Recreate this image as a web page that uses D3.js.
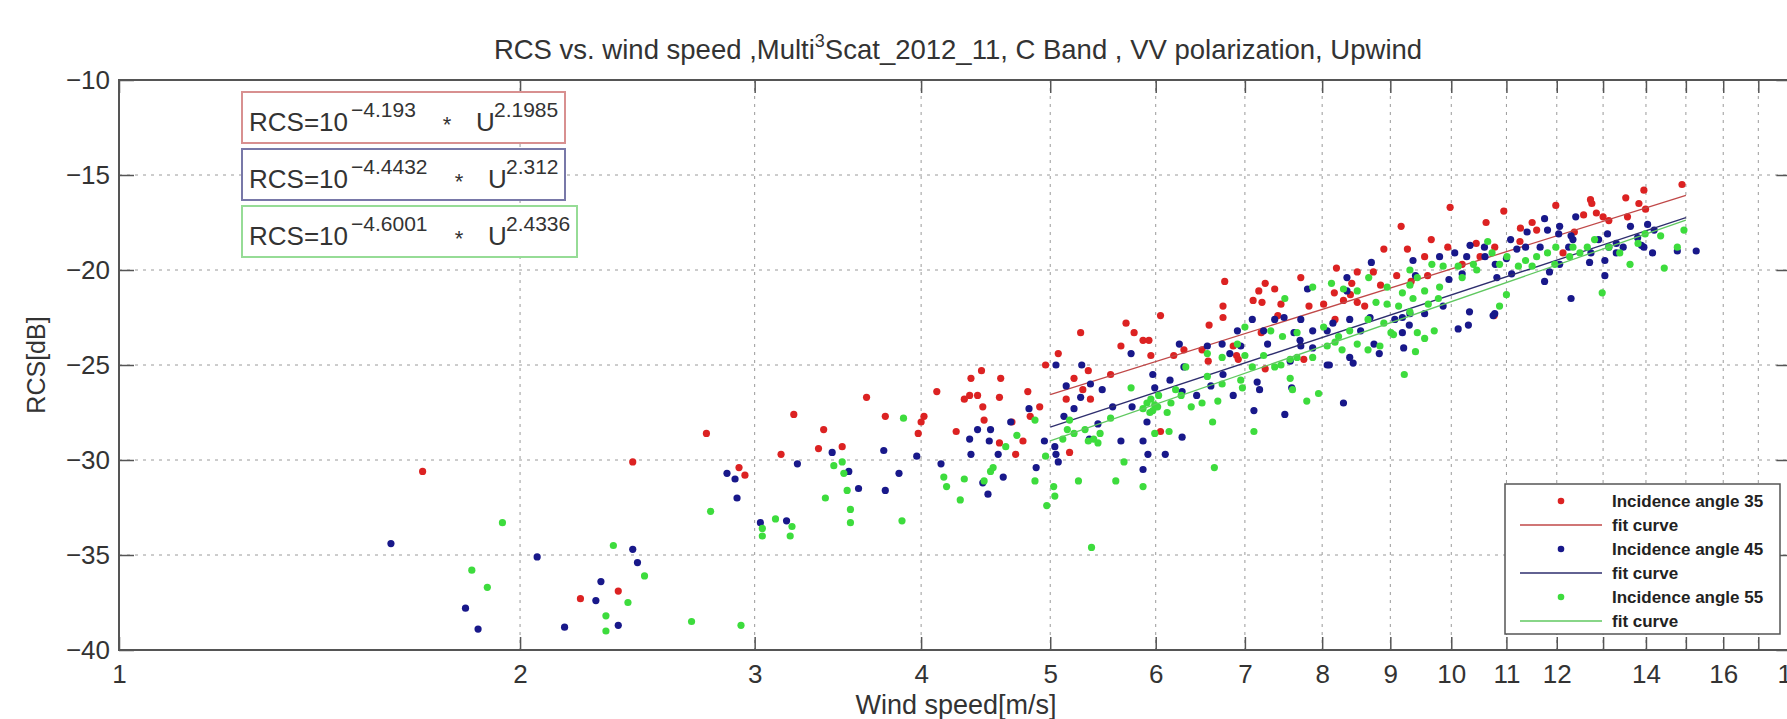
<!DOCTYPE html>
<meta charset="utf-8">
<script src="https://d3js.org/d3.v7.min.js"></script>
<style>
  body { margin: 0; background: #fff; }
  svg { display: block; font-family: 'Liberation Sans', Arial, sans-serif; }
  .tick text { fill: #333; }
</style>
<div id="chart"></div>
<script>
// readings of the scatter, [wind speed m/s, RCS dB]
var angle35 = [
  [1.69,-30.6],[2.22,-37.3],[2.43,-30.1],[2.37,-36.9],[2.76,-28.6],[2.92,-30.4],[2.95,-30.8],
  [3.14,-29.7],[3.21,-27.6],[3.38,-28.4],[3.35,-29.4],[3.49,-29.3],[3.64,-26.7],[3.76,-27.7],
  [4.02,-27.7],[4.00,-28.0],[3.98,-28.6],[4.11,-26.4],[4.25,-28.5],[4.31,-26.8],[4.36,-25.7],
  [4.35,-26.6],[4.41,-26.6],[4.44,-25.3],[4.45,-27.2],[4.46,-27.9],[4.58,-26.7],[4.59,-25.7],
  [4.58,-29.1],[4.71,-29.7],[4.68,-28.0],[4.77,-29.0],[4.81,-26.4],[4.83,-27.7],[4.96,-25.0],
  [4.91,-27.2],[5.07,-24.4],[5.27,-23.3],[5.17,-29.6],[5.14,-26.8],[5.21,-25.7],[5.29,-26.3],
  [5.34,-25.3],[5.36,-26.8],[5.55,-25.5],[5.65,-24.0],[5.70,-22.8],[5.78,-23.3],[5.87,-23.7],
  [5.93,-23.7],[6.05,-22.4],[5.95,-24.5],[6.05,-28.5],[6.19,-24.5],[6.30,-24.2],
  [6.58,-22.9],[6.74,-22.5],[6.74,-21.9],[6.50,-24.2],[6.57,-24.8],[6.86,-24.0],[6.90,-24.5],
  [6.92,-24.7],[7.20,-23.3],[7.25,-25.2],[7.41,-22.4],[7.10,-21.6],[7.75,-24.7],[8.18,-22.6],
  [8.40,-21.3],[8.30,-21.6],[10.77,-22.4],
  [7.21,-21.7],[7.45,-21.8],[7.82,-21.9],[8.02,-21.8],[8.50,-21.7],[8.61,-21.9],
  [7.17,-21.1],[7.37,-21.0],[7.25,-20.7],[6.76,-20.6],[7.71,-20.4],[8.20,-19.9],[8.17,-21.2],
  [8.42,-20.7],[8.50,-20.1],[8.74,-20.1],[8.85,-20.8],[9.10,-20.3],[9.33,-20.6],[9.60,-20.3],
  [8.90,-18.9],[9.27,-18.9],[9.55,-19.3],[9.66,-18.4],[9.94,-18.8],[10.44,-18.6],[10.51,-19.3],
  [10.19,-19.7],[10.78,-18.8],[11.26,-18.5],[11.59,-17.9],[12.13,-19.1],[12.37,-18.0],[13.13,-17.4],
  [9.17,-17.7],[9.98,-16.7],[10.62,-17.5],[10.95,-16.9],[11.27,-17.8],[11.50,-17.5],[11.98,-16.6],
  [12.57,-17.1],[12.72,-16.3],[12.75,-16.5],[12.85,-17.0],[13.00,-17.2],[13.56,-17.2],[13.52,-16.2],
  [13.99,-16.8],[13.83,-16.5],[13.95,-15.8],[14.90,-15.5]
];

var angle45 = [
  [1.60,-34.4],[1.82,-37.8],[1.86,-38.9],[2.06,-35.1],[2.16,-38.8],[2.28,-37.4],[2.30,-36.4],
  [2.37,-38.7],[2.43,-34.7],[2.45,-35.4],
  [2.86,-30.7],[2.90,-31.0],[2.91,-32.0],[3.03,-33.3],[3.17,-33.2],[3.23,-30.2],[3.43,-29.6],
  [3.53,-30.6],[3.59,-31.5],[3.75,-29.5],[3.76,-31.6],[3.85,-30.7],[3.97,-29.8],[4.14,-30.2],
  [4.41,-28.4],[4.35,-28.9],[4.36,-29.7],[4.51,-28.4],[4.50,-29.0],[4.61,-30.9],[4.49,-31.8],
  [4.45,-31.2],[4.57,-29.7],[4.67,-28.0],[4.82,-27.3],[4.88,-30.4],[4.95,-29.0],[5.04,-29.3],
  [5.05,-29.7],[5.07,-30.1],[5.12,-27.7],[5.05,-25.0],[5.14,-26.1],[5.21,-27.3],[5.27,-26.7],
  [5.28,-25.0],[5.36,-26.0],[5.35,-28.9],[5.43,-28.1],[5.47,-26.3],[5.57,-27.2],[5.65,-29.0],
  [5.75,-24.4],[5.76,-27.2],[5.87,-29.0],[5.92,-29.7],[5.87,-30.5],[5.91,-28.0],[5.99,-26.2],
  [5.97,-25.5],[6.10,-29.7],[6.15,-25.8],[6.28,-28.8],[6.28,-26.4],[6.30,-25.1],[6.44,-26.6],
  [6.25,-23.9],
  [6.74,-25.5],[6.60,-26.1],[7.11,-27.4],[7.50,-27.6],[7.57,-24.8],[7.70,-23.7],[8.07,-25.0],
  [8.30,-27.0],[8.44,-24.9],[8.83,-24.4],[9.21,-24.1],[9.30,-22.9],[10.12,-23.1],[10.30,-22.9],
  [10.75,-22.4],[7.15,-25.9],[6.86,-26.6],
  [9.31,-22.3],[9.55,-22.3],[9.86,-21.9],[10.32,-22.2],[10.78,-22.3],[6.91,-23.2],[7.09,-22.6],
  [7.23,-23.2],[7.37,-22.6],[7.49,-22.5],[7.62,-23.3],[7.71,-22.6],[7.87,-23.2],[8.07,-23.2],
  [8.15,-22.8],[8.39,-22.6],[8.55,-23.2],[8.69,-22.5],[9.07,-22.6],[9.19,-22.5],[6.56,-24.0],
  [6.73,-23.9],[6.82,-24.4],[6.95,-24.0],[7.28,-23.9],[7.71,-24.0],[7.87,-24.1],[8.10,-25.0],
  [8.39,-24.6],[8.75,-23.9],[9.19,-23.3],[7.59,-26.2],[7.18,-26.3],
  [11.75,-17.3],[12.06,-17.7],[12.30,-18.2],[12.40,-17.2],[14.04,-17.6],[14.20,-17.9],[13.80,-18.3],
  [13.95,-18.8],[14.78,-19.0],[15.27,-19.0],[13.46,-18.8],[13.30,-19.1],[13.10,-18.1],[12.90,-18.4],
  [13.04,-19.5],[13.04,-20.3],[12.70,-19.6],[12.25,-18.8],[12.06,-19.7],[11.85,-20.1],[11.75,-20.6],
  [12.30,-21.5],[11.40,-18.0],[11.20,-18.9],[11.00,-19.4],[11.10,-20.2],[10.82,-20.4],[10.60,-19.3],
  [10.33,-18.7],[10.27,-19.3],[9.96,-20.5],[9.36,-19.5],[9.40,-20.3],[8.71,-19.6],[8.35,-20.4],
  [8.35,-21.1],[7.80,-21.0],
  [9.80,-19.3],[10.06,-19.1],[10.19,-20.2],[10.59,-18.8],[10.79,-19.7],[11.08,-18.4],[11.37,-18.8],
  [11.66,-18.8],[11.81,-17.9],[12.04,-18.1],[12.34,-18.4],[12.73,-19.1],[13.13,-18.8],[13.30,-18.6],
  [13.63,-17.7],[13.89,-18.7],[14.16,-19.1]
];

var angle55 = [
  [1.94,-33.3],[1.84,-35.8],[1.89,-36.7],[2.35,-34.5],[2.48,-36.1],[2.41,-37.5],[2.32,-38.2],
  [2.32,-39.0],[2.69,-38.5],[2.93,-38.7],[2.78,-32.7],[3.04,-33.6],[3.04,-34.0],[3.11,-33.1],
  [3.20,-33.5],[3.19,-34.0],[3.44,-30.3],[3.49,-30.1],[3.50,-30.7],[3.39,-32.0],[3.52,-31.6],
  [3.54,-32.6],[3.54,-33.3],[3.88,-27.8],[3.87,-33.2],[4.16,-30.9],[4.18,-31.4],[4.28,-32.1],
  [4.31,-31.0],[4.51,-30.6],[4.53,-30.4],[4.46,-31.1],[4.63,-29.3],[4.72,-28.7],[4.87,-27.9],
  [4.87,-31.1],[4.97,-32.4],[5.03,-31.4],[5.04,-31.9],[4.96,-29.8],[5.11,-28.9],[5.15,-28.4],
  [5.17,-27.9],[5.21,-28.6],[5.25,-31.1],[5.31,-28.4],[5.34,-29.0],[5.39,-28.9],[5.37,-34.6],
  [5.45,-28.6],[5.43,-29.1],[5.55,-27.8],[5.60,-31.1],[5.68,-30.1],[5.75,-26.2],[5.87,-31.4],
  [5.87,-27.3],[5.91,-27.0],[5.95,-26.8],[5.99,-27.1],[5.97,-27.4],[6.02,-27.2],[5.94,-27.5],
  [6.03,-26.6],[6.12,-27.5],[6.16,-27.0],[6.21,-26.3],[6.27,-26.6],[6.32,-25.1],[6.38,-27.2],
  [5.99,-28.6],[6.14,-28.5],
  [6.62,-28.0],[6.64,-30.4],[7.11,-28.5],[7.79,-26.9],[7.95,-26.5],[7.60,-26.3],[6.97,-26.2],
  [6.68,-26.9],[6.50,-27.0],[7.45,-25.0],[9.22,-25.5],[9.40,-24.3],[9.55,-23.6],[9.05,-23.4],
  [9.78,-21.5],[11.0,-21.3],
  [8.78,-21.7],[8.95,-21.8],[9.13,-21.9],[9.31,-22.2],[9.61,-21.8],[10.87,-21.9],[7.00,-23.0],
  [7.32,-23.2],[7.47,-23.5],[7.66,-23.3],[8.02,-23.0],[8.23,-23.5],[8.39,-23.2],[8.66,-22.6],
  [8.90,-22.8],[9.01,-23.3],[9.43,-23.3],[9.71,-23.2],[6.56,-24.4],[6.73,-24.6],[6.91,-23.9],
  [7.00,-24.5],[7.09,-25.1],[7.23,-24.5],[7.37,-25.1],[7.57,-24.7],[7.66,-24.6],[7.87,-24.6],
  [8.07,-24.0],[8.18,-23.8],[8.28,-24.2],[8.50,-23.9],[8.66,-24.2],[8.84,-24.0],[7.57,-25.7],
  [6.95,-25.8],[6.73,-26.0],[6.56,-25.6],
  [14.95,-17.9],[14.78,-18.8],[14.36,-18.2],[14.45,-19.9],[13.62,-19.7],[12.98,-21.2],[11.98,-18.8],
  [11.50,-19.8],[10.65,-18.5],[9.36,-21.5],[8.30,-21.0],[7.50,-21.5],
  [9.31,-20.0],[9.43,-20.4],[9.67,-19.7],[9.86,-19.8],[10.12,-19.8],[10.19,-20.4],[10.39,-19.7],
  [10.45,-20.0],[10.73,-19.1],[10.87,-19.7],[11.01,-19.3],[11.23,-19.8],[11.37,-19.5],[11.59,-19.3],
  [11.81,-19.1],[11.96,-19.7],[12.27,-19.3],[12.34,-18.8],[12.49,-19.1],[12.65,-18.8],[12.81,-18.4],
  [13.13,-18.8],[13.38,-19.1],[13.81,-18.6],[13.98,-18.1],
  [7.87,-20.9],[8.13,-20.7],[8.50,-21.1],[8.67,-20.4],[8.95,-20.9],[9.19,-21.2],[9.31,-20.8],
  [9.55,-21.1],[9.80,-20.9]
];

// fit: RCS = 10^a * U^b  (dB = 10a + 10b log10 U)
var fitA = [-4.193, -4.4432, -4.6001];
var fitB = [2.1985, 2.312, 2.4336];
var fitRange = [5, 15];

var xTicks = d3.range(1, 19);
var xLabelled = [1,2,3,4,5,6,7,8,9,10,11,12,14,16,18];
var yTicks = [-40, -35, -30, -25, -20, -15, -10];

var dotColors = ["#dc2222", "#18188a", "#3ddc3d"];
var fitColors = ["#c04848", "#2e2e6e", "#60c860"];
var boxColors = ["#d89090", "#7878a8", "#96dc96"];
var legendNames = ["Incidence angle 35", "fit curve", "Incidence angle 45", "fit curve", "Incidence angle 55", "fit curve"];

var W = 1787, H = 719;
var plotLeft = 119, plotTop = 80, plotBottom = 650;

var svg = d3.select("#chart").append("svg")
    .attr("width", W)
    .attr("height", H);

svg.append("rect").attr("width", W).attr("height", H).attr("fill", "#fff");

var x = d3.scaleLog()
    .domain([1, 18])
    .range([plotLeft, plotLeft + 578.6 * Math.log(18)]);
var y = d3.scaleLinear()
    .domain([-40, -10])
    .range([plotBottom, plotTop]);

var plotRight = x.range()[1];

// grid
var grid = svg.append("g")
    .attr("stroke", "#9a9a9a")
    .attr("stroke-width", 1)
    .attr("stroke-dasharray", "3,5");
grid.selectAll("line.gx")
    .data(xTicks.slice(1))
    .enter().append("line")
    .attr("x1", function (d) { return x(d); })
    .attr("x2", function (d) { return x(d); })
    .attr("y1", plotTop)
    .attr("y2", plotBottom);
grid.selectAll("line.gy")
    .data(yTicks.slice(1, -1))
    .enter().append("line")
    .attr("x1", plotLeft)
    .attr("x2", plotRight)
    .attr("y1", function (d) { return y(d); })
    .attr("y2", function (d) { return y(d); });

// axes
function styleAxis(g) {
    g.select(".domain").remove();
    g.selectAll(".tick line").attr("stroke", "#555").attr("stroke-width", 1.5);
    g.selectAll(".tick text").attr("font-size", 26).attr("font-family", "'Liberation Sans', Arial, sans-serif");
}

svg.append("g")
    .attr("transform", "translate(0," + plotBottom + ")")
    .call(d3.axisBottom(x)
        .tickValues(xTicks)
        .tickFormat(function (d) { return xLabelled.indexOf(d) >= 0 ? d : ""; })
        .tickSizeInner(-13).tickSizeOuter(0).tickPadding(15))
    .call(styleAxis);

svg.append("g")
    .attr("transform", "translate(0," + plotTop + ")")
    .call(d3.axisTop(x).tickValues(xTicks).tickFormat("")
        .tickSizeInner(-13).tickSizeOuter(0))
    .call(styleAxis);

svg.append("g")
    .attr("transform", "translate(" + plotLeft + ",0)")
    .call(d3.axisLeft(y)
        .tickValues(yTicks)
        .tickSizeInner(-15).tickSizeOuter(0).tickPadding(9))
    .call(styleAxis);

svg.append("g")
    .attr("transform", "translate(" + plotRight + ",0)")
    .call(d3.axisRight(y).tickValues(yTicks).tickFormat("")
        .tickSizeInner(-15).tickSizeOuter(0))
    .call(styleAxis);

svg.append("rect")
    .attr("x", plotLeft).attr("y", plotTop)
    .attr("width", plotRight - plotLeft).attr("height", plotBottom - plotTop)
    .attr("fill", "none").attr("stroke", "#555").attr("stroke-width", 2);

// scatter + fit curves
var series = [angle35, angle45, angle55];
var line = d3.line()
    .x(function (d) { return x(d[0]); })
    .y(function (d) { return y(d[1]); });

series.forEach(function (pts, i) {
    svg.append("g")
        .selectAll("circle")
        .data(pts)
        .enter().append("circle")
        .attr("cx", function (d) { return x(d[0]); })
        .attr("cy", function (d) { return y(d[1]); })
        .attr("r", 3.6)
        .attr("fill", dotColors[i]);

    var fit = fitRange.map(function (u) {
        return [u, 10 * (fitA[i] + fitB[i] * Math.log10(u))];
    });
    svg.append("path")
        .datum(fit)
        .attr("d", line)
        .attr("fill", "none")
        .attr("stroke", fitColors[i])
        .attr("stroke-width", 1.3);
});

// equation boxes
var eqTop = [92, 149, 206];
var eqWidth = [323, 323, 335];
var eqExp1 = ["\u22124.193", "\u22124.4432", "\u22124.6001"];
var eqExp2 = ["2.1985", "2.312", "2.4336"];
var starX = [447, 459, 459];
var uX = [476, 488, 488];

eqTop.forEach(function (t, i) {
    svg.append("rect")
        .attr("x", 242).attr("y", t)
        .attr("width", eqWidth[i]).attr("height", 51)
        .attr("fill", "#fff")
        .attr("stroke", boxColors[i]).attr("stroke-width", 2);
    var base = t + 39;
    var g = svg.append("g").attr("fill", "#333");
    g.append("text").attr("x", 249).attr("y", base).attr("font-size", 26).text("RCS=10");
    g.append("text").attr("x", 351).attr("y", base - 14).attr("font-size", 21).text(eqExp1[i]);
    g.append("text").attr("x", starX[i]).attr("y", base + 1).attr("font-size", 22)
        .attr("text-anchor", "middle").text("*");
    g.append("text").attr("x", uX[i]).attr("y", base).attr("font-size", 26).text("U");
    g.append("text").attr("x", uX[i] + 18).attr("y", base - 14).attr("font-size", 21).text(eqExp2[i]);
});

// legend
var lg = svg.append("g");
lg.append("rect")
    .attr("x", 1505).attr("y", 484).attr("width", 275).attr("height", 150)
    .attr("fill", "#fff").attr("stroke", "#555").attr("stroke-width", 1.5);
legendNames.forEach(function (name, k) {
    var cy = 501 + k * 24;
    var c = Math.floor(k / 2);
    if (k % 2 === 0) {
        lg.append("circle").attr("cx", 1561).attr("cy", cy).attr("r", 3.3).attr("fill", dotColors[c]);
    } else {
        lg.append("line").attr("x1", 1520).attr("x2", 1602).attr("y1", cy).attr("y2", cy)
            .attr("stroke", fitColors[c]).attr("stroke-width", 1.5);
    }
    lg.append("text").attr("x", 1612).attr("y", cy + 6)
        .attr("font-size", 17).attr("font-weight", "bold").attr("fill", "#222")
        .text(name);
});

// title and axis labels
var title = svg.append("text")
    .attr("x", 958).attr("y", 59)
    .attr("text-anchor", "middle")
    .attr("font-size", 27.5).attr("fill", "#333");
title.append("tspan").text("RCS vs. wind speed ,Multi");
title.append("tspan").attr("font-size", 18).attr("dy", -12).text("3");
title.append("tspan").attr("dy", 12).text("Scat_2012_11, C Band , VV polarization, Upwind");

svg.append("text")
    .attr("x", 956).attr("y", 714)
    .attr("text-anchor", "middle")
    .attr("font-size", 27).attr("fill", "#333")
    .text("Wind speed[m/s]");

svg.append("text")
    .attr("transform", "translate(45," + ((plotTop + plotBottom) / 2) + ") rotate(-90)")
    .attr("text-anchor", "middle")
    .attr("font-size", 25).attr("fill", "#333")
    .text("RCS[dB]");
</script>
